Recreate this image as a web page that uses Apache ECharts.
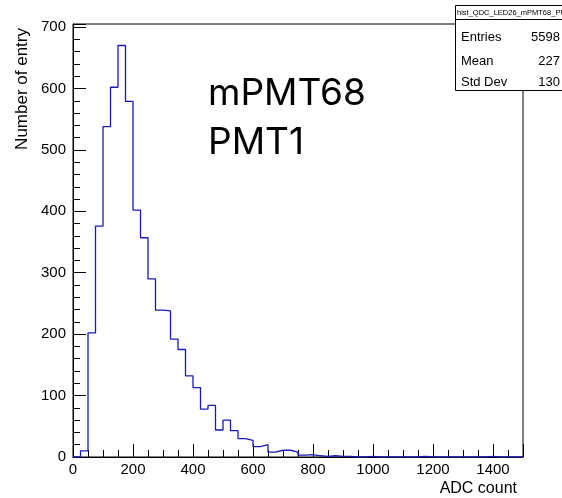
<!DOCTYPE html>
<html>
<head>
<meta charset="utf-8">
<script src="https://cdn.jsdelivr.net/npm/echarts@6/dist/echarts.min.js"></script>
<style>
html,body{margin:0;padding:0;background:#fff;}
#c{width:562px;height:498px;}
</style>
</head>
<body>
<div id="c"></div>
<script>
// Histogram: 60 bins of width 25 from 0 to 1500
var binStart = 0;
var binWidth = 25;
var counts = [
  0, 10, 202, 376, 538, 602, 670, 579, 402, 357,
  290, 239, 238, 192, 175, 132, 113, 78, 84, 44,
  60, 43, 30, 27, 17, 20, 8, 11, 11, 8,
  3, 4, 2, 1, 2, 1, 1, 0, 0, 1,
  0, 0, 0, 0, 0, 0, 1, 0, 0, 0,
  0, 0, 0, 0, 0, 1, 0, 0, 0, 0
];
var xTickLabels = [0, 200, 400, 600, 800, 1000, 1200, 1400];
var yTickLabels = [0, 100, 200, 300, 400, 500, 600, 700];
var statNames = ['Entries', 'Mean', 'Std Dev'];
var statValues = ['5598', '227', '130'];
var histName = 'hist_QDC_LED26_mPMT68_PMT1';
var labelLines = ['mPMT68', 'PMT1'];

var stepData = [];
for (var i = 0; i < counts.length; i++) {
  stepData.push([binStart + i * binWidth, counts[i]]);
}
stepData.push([binStart + counts.length * binWidth, counts[counts.length - 1]]);

var chart = echarts.init(document.getElementById('c'), null, {renderer: 'canvas'});
var FONT = 'Liberation Sans';
var gridPos = {left: 73, top: 24, right: 39, bottom: 41};

var graphics = [];
// y axis title
graphics.push({
  type: 'text', x: 22, y: 28, rotation: Math.PI / 2,
  style: {text: 'Number of entry', font: '17px "Liberation Sans"', fill: '#000', align: 'right', verticalAlign: 'middle'}
});
// x axis title
graphics.push({
  type: 'text', x: 517, y: 489,
  style: {text: 'ADC count', font: '16px "Liberation Sans"', fill: '#000', align: 'right', verticalAlign: 'middle'}
});
// big label
graphics.push({
  type: 'text', x: 208, y: 94,
  style: {text: labelLines[0], font: '37px Inter', fill: '#000', align: 'left', verticalAlign: 'middle'}
});
graphics.push({
  type: 'text', x: 208, y: 143,
  style: {text: labelLines[1], font: '37px Inter', fill: '#000', align: 'left', verticalAlign: 'middle'}
});
// stats box
graphics.push({
  type: 'rect', shape: {x: 455.5, y: 5.5, width: 120, height: 85},
  style: {fill: '#fff', stroke: '#000', lineWidth: 1}, z: 10
});
graphics.push({
  type: 'line', shape: {x1: 455.5, y1: 19.5, x2: 562, y2: 19.5},
  style: {stroke: '#000', lineWidth: 1}, z: 11
});
graphics.push({
  type: 'text', x: 457, y: 12.5, z: 11,
  style: {text: histName, font: '7.5px "Liberation Sans"', fill: '#000', align: 'left', verticalAlign: 'middle'}
});
var rowY = [37, 61, 82];
for (var r = 0; r < statNames.length; r++) {
  graphics.push({
    type: 'text', x: 461, y: rowY[r], z: 11,
    style: {text: statNames[r], font: '13px "Liberation Sans"', fill: '#000', align: 'left', verticalAlign: 'middle'}
  });
  graphics.push({
    type: 'text', x: 560, y: rowY[r], z: 11,
    style: {text: statValues[r], font: '13px "Liberation Sans"', fill: '#000', align: 'right', verticalAlign: 'middle'}
  });
}

function majorFmt(list) {
  return function (v) { return list.indexOf(v) >= 0 ? String(v) : ''; };
}

chart.setOption({
  animation: false,
  backgroundColor: '#fff',
  textStyle: {fontFamily: FONT},
  grid: {left: gridPos.left, top: gridPos.top, right: gridPos.right, bottom: gridPos.bottom,
         show: true, borderColor: '#000', borderWidth: 1, backgroundColor: 'transparent'},
  xAxis: [{
    type: 'value', min: 0, max: 1500, interval: 200,
    axisLine: {show: true, lineStyle: {color: '#000', width: 1}},
    axisTick: {show: true, inside: true, length: 13, lineStyle: {color: '#000'}},
    axisLabel: {show: true, color: '#000', fontSize: 15, fontFamily: FONT, margin: 5, formatter: majorFmt(xTickLabels)},
    splitLine: {show: false}
  }, {
    type: 'value', min: 0, max: 1500, interval: 50, position: 'bottom',
    axisLine: {show: false},
    axisTick: {show: true, inside: true, length: 7, lineStyle: {color: '#000'}},
    axisLabel: {show: false},
    splitLine: {show: false}
  }],
  yAxis: [{
    type: 'value', min: 0, max: 705, interval: 100,
    axisLine: {show: true, lineStyle: {color: '#000', width: 1}},
    axisTick: {show: true, inside: true, length: 13, lineStyle: {color: '#000'}},
    axisLabel: {show: true, color: '#000', fontSize: 15, fontFamily: FONT, margin: 7, formatter: majorFmt(yTickLabels)},
    splitLine: {show: false}
  }, {
    type: 'value', min: 0, max: 705, interval: 20, position: 'left',
    axisLine: {show: false},
    axisTick: {show: true, inside: true, length: 7, lineStyle: {color: '#000'}},
    axisLabel: {show: false},
    splitLine: {show: false}
  }],
  series: [{
    type: 'line', xAxisIndex: 0, yAxisIndex: 0,
    step: 'end', data: stepData, symbol: 'none', silent: true,
    lineStyle: {color: '#1a1ab4', width: 1.3}, clip: true
  }],
  graphic: graphics
});
</script>
</body>
</html>
